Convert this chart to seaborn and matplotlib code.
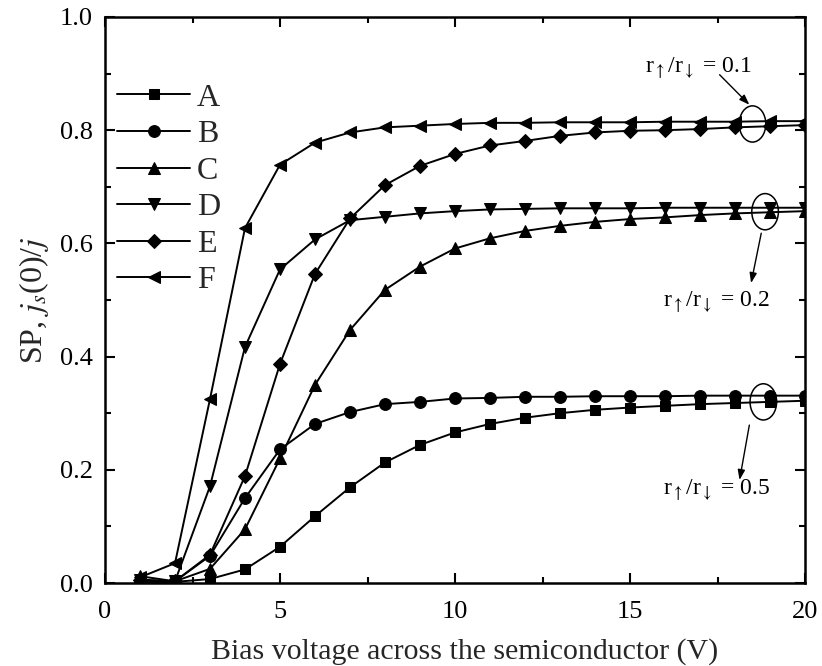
import numpy as np
import pandas as pd
import matplotlib
matplotlib.use("Agg")
import matplotlib.pyplot as plt
from matplotlib.patches import Ellipse
from matplotlib.ticker import MultipleLocator, FormatStrFormatter
import seaborn as sns

# Bias voltage (V)
voltage = list(range(1, 21))

# Spin polarization for each configuration
sp_a = [0.001, 0.002, 0.007, 0.024, 0.064, 0.118, 0.169, 0.213, 0.244, 0.266,
        0.281, 0.292, 0.300, 0.306, 0.310, 0.313, 0.316, 0.318, 0.320, 0.322]
sp_b = [0.004, 0.003, 0.048, 0.150, 0.236, 0.281, 0.302, 0.316, 0.320, 0.326,
        0.327, 0.329, 0.329, 0.330, 0.330, 0.330, 0.331, 0.331, 0.331, 0.331]
sp_c = [0.012, 0.003, 0.025, 0.095, 0.220, 0.350, 0.447, 0.518, 0.559, 0.591,
        0.609, 0.622, 0.631, 0.638, 0.643, 0.646, 0.650, 0.653, 0.655, 0.657]
sp_d = [0.006, 0.003, 0.171, 0.417, 0.554, 0.607, 0.641, 0.647, 0.653, 0.657,
        0.660, 0.661, 0.662, 0.662, 0.662, 0.663, 0.663, 0.663, 0.663, 0.663]
sp_e = [0.005, 0.003, 0.050, 0.189, 0.387, 0.546, 0.644, 0.703, 0.737, 0.758,
        0.773, 0.781, 0.790, 0.796, 0.799, 0.800, 0.802, 0.805, 0.807, 0.809]
sp_f = [0.010, 0.035, 0.325, 0.627, 0.739, 0.778, 0.796, 0.805, 0.808, 0.811,
        0.813, 0.813, 0.814, 0.814, 0.814, 0.815, 0.815, 0.815, 0.816, 0.816]

labels = ["A", "B", "C", "D", "E", "F"]
series = [sp_a, sp_b, sp_c, sp_d, sp_e, sp_f]
markers = ["s", "o", "^", "v", "D", "<"]
marker_sizes = [7.5, 8.5, 9, 9, 7.5, 9]

sns.set_theme(style="ticks")
plt.rcParams["font.family"] = ["Liberation Serif", "DejaVu Serif"]
plt.rcParams["mathtext.fontset"] = "stix"

fig = plt.figure(figsize=(8.22, 6.66), dpi=100)
ax = fig.add_axes([105 / 822, 1 - 583 / 666, 700 / 822, 566 / 666])

for lab, vals, mk, ms in zip(labels, series, markers, marker_sizes):
    df = pd.DataFrame({"V": voltage, "SP": vals})
    sns.lineplot(data=df, x="V", y="SP", ax=ax, color="black", linewidth=1.4,
                 marker=mk, markersize=ms, markeredgecolor="black",
                 markerfacecolor="black", label=lab)

ax.set_xlim(0, 20)
ax.set_ylim(0, 1.0)
ax.xaxis.set_major_locator(MultipleLocator(5))
ax.xaxis.set_minor_locator(MultipleLocator(2.5))
ax.yaxis.set_major_locator(MultipleLocator(0.2))
ax.yaxis.set_minor_locator(MultipleLocator(0.1))
ax.yaxis.set_major_formatter(FormatStrFormatter("%.1f"))
ax.tick_params(which="both", direction="in", top=True, right=True,
               width=1.5, colors="black")
ax.tick_params(which="major", length=7, labelsize=19)
ax.tick_params(which="minor", length=4.5)
ax.tick_params(axis="y", which="major", pad=9)
ax.tick_params(axis="x", which="major", pad=13)
for sp in ax.spines.values():
    sp.set_linewidth(1.8)
    sp.set_color("black")

ax.set_xlabel("Bias voltage across the semiconductor (V)", fontsize=21.5, labelpad=11)
ax.xaxis.label.set_x(0.514)
ax.set_ylabel(r"SP, $j_s$(0)/$j$", fontsize=23, labelpad=6)

leg = ax.legend(loc="upper left", bbox_to_anchor=(0.017, 0.883), frameon=False,
                fontsize=23, handlelength=2.3, handletextpad=0.2,
                labelspacing=0.226, borderpad=0, borderaxespad=0)
for h in leg.legend_handles:
    h.set_linewidth(1.4)

# Ratio annotations with circled groups
ann_kw = dict(fontsize=17, color="black")
ax.text(15.42, 0.901, r"r$_{\uparrow}$/r$_{\downarrow}$ = 0.1", va="baseline", **ann_kw)
ax.text(15.93, 0.488, r"r$_{\uparrow}$/r$_{\downarrow}$ = 0.2", va="baseline", **ann_kw)
ax.text(15.93, 0.155, r"r$_{\uparrow}$/r$_{\downarrow}$ = 0.5", va="baseline", **ann_kw)

for (cx, cy) in [(18.5, 0.811), (18.86, 0.656), (18.81, 0.320)]:
    ax.add_patch(Ellipse((cx, cy), 0.76, 0.064, fill=False, edgecolor="black",
                         linewidth=1.1, zorder=5))

arrow_kw = dict(arrowstyle="-|>,head_length=0.5,head_width=0.18", color="black",
                linewidth=1.0, shrinkA=0, shrinkB=0)
ax.annotate("", xy=(18.41, 0.845), xytext=(17.56, 0.898), arrowprops=arrow_kw)
ax.annotate("", xy=(18.46, 0.530), xytext=(18.75, 0.618), arrowprops=arrow_kw)
ax.annotate("", xy=(18.13, 0.182), xytext=(18.41, 0.279), arrowprops=arrow_kw)

fig.savefig("out.png", dpi=100)
